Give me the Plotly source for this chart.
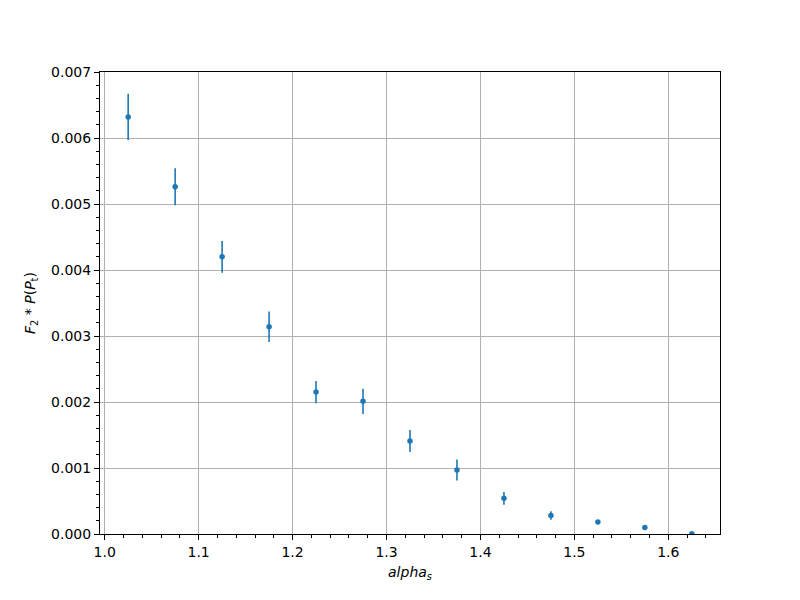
import plotly.graph_objects as go

alpha_s = [1.025, 1.075, 1.125, 1.175, 1.225, 1.275, 1.325, 1.375, 1.425, 1.475, 1.525, 1.575, 1.625]
values = [0.00632, 0.00526, 0.00420, 0.00314, 0.00215, 0.00201, 0.00141, 0.00097,
          0.00054, 0.00028, 0.00018, 0.00010, 0.000004]
errors = [0.00035, 0.00028, 0.00024, 0.00023, 0.00017, 0.00019, 0.000167, 0.00016,
          0.000096, 0.000065, 0.00003, 0.00002, 0.000004]

color = "#1f77b4"
fig = go.Figure()
fig.add_trace(go.Scatter(
    x=alpha_s, y=values, mode="markers",
    marker=dict(color=color, size=5.5),
    error_y=dict(type="data", array=errors, visible=True, color=color, thickness=1.6, width=0),
    showlegend=False,
))

font = dict(family="DejaVu Sans", size=14, color="black")
axis_common = dict(
    showline=True, linecolor="black", linewidth=1, mirror=True,
    ticks="outside", ticklen=5, tickwidth=1, tickcolor="black",
    showgrid=True, gridcolor="#b0b0b0", gridwidth=1,
    zeroline=False, tickfont=font,
)
fig.update_xaxes(
    range=[0.995, 1.655], tickmode="linear", tick0=1.0, dtick=0.1, tickformat=".1f",
    minor=dict(dtick=0.02, tick0=1.0, ticks="outside", ticklen=3, tickcolor="black", showgrid=False),
    title=dict(text="<i>alpha</i><sub><i>s</i></sub>", font=font, standoff=8),
    **axis_common,
)
fig.update_yaxes(
    range=[0, 0.007], tickmode="linear", tick0=0, dtick=0.001, tickformat=".3f",
    minor=dict(dtick=0.0002, tick0=0, ticks="outside", ticklen=3, tickcolor="black", showgrid=False),
    title=dict(text="<i>F</i><sub>2</sub> * <i>P</i>(<i>P</i><sub>t</sub>)", font=font, standoff=12),
    **axis_common,
)
fig.update_layout(
    width=800, height=600,
    margin=dict(l=92, r=88, t=64, b=74, autoexpand=False),
    plot_bgcolor="white", paper_bgcolor="white",
    font=font,
)
fig.write_html("out.html")
